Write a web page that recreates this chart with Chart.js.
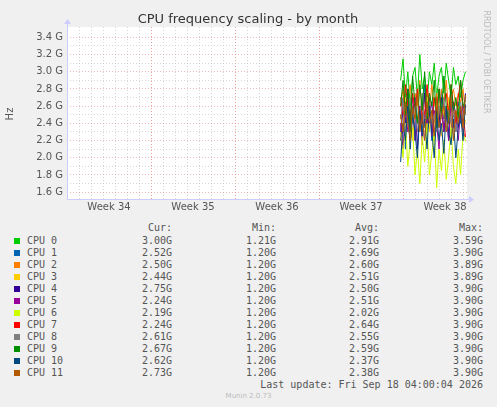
<!DOCTYPE html>
<html><head><meta charset="utf-8">
<script src="https://cdn.jsdelivr.net/npm/chart.js@4/dist/chart.umd.min.js"></script>
<style>
body{margin:0;background:#f0f0f0;width:497px;height:407px;overflow:hidden;font-family:"DejaVu Sans Mono",monospace;}
#c{position:absolute;left:0;top:0;}
.t{position:absolute;font-size:10px;color:#555;white-space:pre;}
.r{text-align:right;}
.sq{position:absolute;width:6px;height:6px;}
</style></head><body>
<canvas id="c" width="497" height="215"></canvas>
<div id="leg"></div>
<script>
const times=[27.8,28.0,28.2,28.4,28.6,28.8,29.0,29.2,29.4,29.6,29.8,30.0,30.2,30.4,30.6,30.8,31.0,31.2,31.4,31.6,31.8,32.0,32.2,32.4,32.6,32.8,33.0,33.2];
const names=["CPU 0","CPU 1","CPU 2","CPU 3","CPU 4","CPU 5","CPU 6","CPU 7","CPU 8","CPU 9","CPU 10","CPU 11"];
const colors=["#00cc00","#0066b3","#ff8000","#ffcc00","#330099","#990099","#ccff00","#ff0000","#808080","#008f00","#00487d","#b35a00"];
const cpu0=[2.9,3.15,2.7,3.0,2.6,2.95,3.05,2.7,3.2,2.8,2.95,2.65,3.0,2.85,3.1,2.7,2.95,3.05,2.75,3.1,2.9,2.7,3.05,2.85,2.95,2.7,2.9,3.0];
const cpu1=[2.3,2.7,2.1,2.8,2.4,2.6,2.2,2.75,2.5,2.3,2.85,2.4,2.6,2.2,2.7,2.5,2.35,2.8,2.45,2.6,2.2,2.75,2.5,2.3,2.65,2.4,2.6,2.52];
const cpu2=[2.6,2.8,2.4,2.7,2.85,2.5,2.75,2.6,2.9,2.45,2.7,2.8,2.55,2.85,2.6,2.75,2.5,2.8,2.65,2.9,2.55,2.7,2.8,2.6,2.75,2.65,2.8,2.5];
const cpu3=[2.5,2.3,2.7,2.4,2.6,2.2,2.55,2.75,2.35,2.6,2.45,2.7,2.3,2.55,2.4,2.65,2.5,2.25,2.6,2.45,2.7,2.35,2.55,2.4,2.6,2.5,2.3,2.44];
const cpu4=[2.2,2.6,2.4,2.8,2.3,2.5,2.7,2.1,2.6,2.4,2.75,2.3,2.5,2.65,2.2,2.55,2.4,2.7,2.3,2.6,2.45,2.2,2.65,2.5,2.35,2.6,2.4,2.75];
const cpu5=[2.4,2.1,2.6,2.3,2.5,2.7,2.2,2.45,2.6,2.15,2.5,2.35,2.7,2.25,2.55,2.4,2.1,2.6,2.3,2.5,2.2,2.65,2.35,2.5,2.2,2.55,2.3,2.24];
const cpu6=[2.3,2.0,2.4,1.9,2.2,2.35,1.8,2.1,1.7,2.25,1.95,2.4,1.8,2.05,2.3,1.65,2.1,1.85,2.2,1.75,2.0,2.35,1.9,1.7,2.1,1.8,2.3,2.19];
const cpu7=[2.7,2.5,2.85,2.6,2.4,2.75,2.55,2.8,2.35,2.65,2.5,2.85,2.6,2.4,2.7,2.55,2.8,2.45,2.65,2.75,2.5,2.85,2.6,2.4,2.7,2.9,2.55,2.24];
const cpu8=[2.45,2.65,2.3,2.55,2.7,2.4,2.6,2.3,2.5,2.75,2.35,2.55,2.65,2.4,2.5,2.3,2.6,2.45,2.7,2.35,2.55,2.4,2.6,2.3,2.5,2.65,2.45,2.61];
const cpu9=[2.6,2.9,2.5,2.8,2.3,2.95,2.6,2.4,2.85,2.55,3.0,2.45,2.75,2.6,2.9,2.35,2.8,2.5,2.95,2.6,2.4,2.85,2.55,2.7,2.45,2.9,2.6,2.67];
const cpu10=[1.95,2.4,2.2,2.6,2.1,2.5,2.3,2.0,2.55,2.25,2.45,2.1,2.6,2.3,2.0,2.5,2.2,2.4,2.05,2.55,2.3,2.15,2.45,2.0,2.35,2.5,2.2,2.62];
const cpu11=[2.5,2.3,2.65,2.4,2.2,2.6,2.45,2.75,2.3,2.5,2.2,2.65,2.4,2.55,2.25,2.7,2.35,2.5,2.6,2.3,2.45,2.7,2.2,2.55,2.4,2.6,2.35,2.73];
const series=[cpu0,cpu1,cpu2,cpu3,cpu4,cpu5,cpu6,cpu7,cpu8,cpu9,cpu10,cpu11];
const cur=["3.00G","2.52G","2.50G","2.44G","2.75G","2.24G","2.19G","2.24G","2.61G","2.67G","2.62G","2.73G"];
const mins=["1.21G","1.20G","1.20G","1.20G","1.20G","1.20G","1.20G","1.20G","1.20G","1.20G","1.20G","1.20G"];
const avgs=["2.91G","2.69G","2.60G","2.51G","2.50G","2.51G","2.02G","2.64G","2.55G","2.59G","2.37G","2.38G"];
const maxs=["3.59G","3.90G","3.89G","3.89G","3.90G","3.90G","3.90G","3.90G","3.90G","3.90G","3.90G","3.90G"];
const weekLabels=["Week 34","Week 35","Week 36","Week 37","Week 38"];
const yTicks=[1.6,1.7,1.8,1.9,2.0,2.1,2.2,2.3,2.4,2.5,2.6,2.7,2.8,2.9,3.0,3.1,3.2,3.3,3.4];

const deco={id:'deco',afterDraw(ch){const c=ch.ctx,a=ch.chartArea;c.save();
c.fillStyle='#333';c.font='13px "DejaVu Sans"';c.textAlign='center';c.fillText('CPU frequency scaling - by month',248,23);
c.font='10px "DejaVu Sans"';c.fillStyle='#555';c.save();c.translate(13,114);c.rotate(-Math.PI/2);c.fillText('Hz',0,0);c.restore();
c.fillStyle='#bbb';c.font='8px "DejaVu Sans"';c.save();c.translate(484,62);c.rotate(Math.PI/2);c.fillText('RRDTOOL / TOBI OETIKER',0,0);c.restore();
c.strokeStyle='#ccccff';c.fillStyle='#ccccff';c.lineWidth=1;
c.beginPath();c.moveTo(a.left,a.bottom+0.5);c.lineTo(a.right+3,a.bottom+0.5);c.moveTo(a.left+0.5,a.bottom);c.lineTo(a.left+0.5,a.top-4);c.stroke();
c.beginPath();c.moveTo(a.right+7,a.bottom+0.5);c.lineTo(a.right+2,a.bottom-3);c.lineTo(a.right+2,a.bottom+4);c.fill();
c.beginPath();c.moveTo(a.left+0.5,a.top-8);c.lineTo(a.left-3,a.top-3);c.lineTo(a.left+4,a.top-3);c.fill();
c.restore();}};
const bg={id:'bg',beforeDraw(ch){const c=ch.ctx,a=ch.chartArea;c.fillStyle='#fff';c.fillRect(a.left,a.top,a.right-a.left,a.bottom-a.top);}};

new Chart(document.getElementById('c'),{type:'line',
data:{datasets:series.map((s,i)=>({label:names[i],data:s.map((v,j)=>({x:times[j],y:v})),borderColor:colors[i],borderWidth:1,pointRadius:0,tension:0,order:11-i}))},
options:{responsive:false,animation:false,layout:{padding:{left:0,right:30,top:27,bottom:0}},
plugins:{legend:{display:false},tooltip:{enabled:false}},
scales:{
x:{type:'linear',min:0,max:33.33,afterBuildTicks(ax){const t=[];for(let d=0;d<=33;d+=0.5)t.push({value:d});ax.ticks=t;},
 ticks:{autoSkip:false,maxRotation:0,color:'#555',font:{family:'DejaVu Sans',size:10},padding:2,callback(v){const w=(v-3.5)/7;return Number.isInteger(Math.round(w*100)/100)&&Math.abs(w-Math.round(w))<1e-6?weekLabels[Math.round(w)]:'';}},
 grid:{drawTicks:false,lineWidth:1,color(ctx){const v=ctx.tick.value;if(Math.abs(v%7)<1e-6)return 'rgba(230,120,120,0.7)';if(Math.abs(v-Math.round(v))<1e-6)return 'rgba(190,190,190,0.6)';return 'rgba(0,0,0,0)';},tickBorderDash:[1,2]},
 border:{display:false,dash:[1,2]}},
y:{min:1.52,max:3.52,afterBuildTicks(ax){ax.ticks=yTicks.map(v=>({value:v}));},afterFit(ax){ax.width=67;},
 ticks:{autoSkip:false,color:'#555',font:{family:'DejaVu Sans',size:10},padding:4,callback(v){return Math.round(v*10)%2===0?v.toFixed(1)+' G':'';}},
 grid:{drawTicks:false,color(ctx){return Math.round(ctx.tick.value*10)%2===0?'rgba(220,140,140,0.6)':'rgba(190,190,190,0.6)';}},
 border:{display:false,dash:[1,2]}}
}},plugins:[bg,deco]});
// dashed grid via ctx override
</script>
<script>
const leg=document.getElementById('leg');let h='';
const hdr=[["Cur:",172],["Min:",276],["Avg:",379],["Max:",483]];
hdr.forEach(([t,x])=>{h+=`<div class="t r" style="left:${x-100}px;width:100px;top:222px">${t}</div>`;});
names.forEach((n,i)=>{const y=235+i*12;
h+=`<div class="sq" style="left:14px;top:${y+3}px;background:${colors[i]}"></div>`;
h+=`<div class="t" style="left:27px;top:${y}px">${n}</div>`;
[[cur,172],[mins,276],[avgs,379],[maxs,483]].forEach(([a,x])=>{h+=`<div class="t r" style="left:${x-100}px;width:100px;top:${y}px">${a[i]}</div>`;});});
h+=`<div class="t r" style="left:183px;width:300px;top:379px">Last update: Fri Sep 18 04:00:04 2026</div>`;
h+=`<div class="t" style="left:0;width:497px;text-align:center;top:392px;font-family:'DejaVu Sans';font-size:7px;color:#bbb">Munin 2.0.73</div>`;
leg.innerHTML=h;
</script>
</body></html>
